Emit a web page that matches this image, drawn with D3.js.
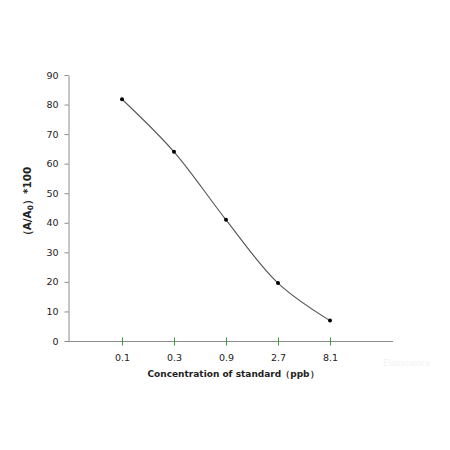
<!DOCTYPE html>
<html><head><meta charset="utf-8">
<script src="https://cdn.jsdelivr.net/npm/d3@7"></script>
<style>body{margin:0;background:#fff}</style>
</head><body>
<svg id="c" width="450" height="450"></svg>
<script>
const categories = ["0.1", "0.3", "0.9", "2.7", "8.1"];
const values = [81.8, 64.0, 41.0, 19.6, 6.9];
const yTicks = [0, 10, 20, 30, 40, 50, 60, 70, 80, 90];

const svg = d3.select("#c");
const font = "DejaVu Sans, Verdana, sans-serif";
const x = d3.scalePoint().domain(categories).range([122, 330]);
const y = d3.scaleLinear().domain([0, 90]).range([341, 75]);

// y axis
const ya = svg.append("g").attr("transform", "translate(68.5,0)")
  .call(d3.axisLeft(y).tickValues(yTicks).tickSize(4).tickPadding(6).tickSizeOuter(0));
ya.select(".domain").attr("stroke", "#8c8c8c");
ya.selectAll(".tick line").attr("stroke", "#8c8c8c");
ya.selectAll("text").attr("font-family", font).attr("font-size", 9.5).attr("fill", "#222");

// x axis line
svg.append("line").attr("x1", 68).attr("x2", 393).attr("y1", 341.5).attr("y2", 341.5)
  .attr("stroke", "#8c8c8c");
const xa = svg.append("g").attr("transform", "translate(0,341.5)")
  .call(d3.axisBottom(x).tickSize(0).tickPadding(13));
xa.select(".domain").remove();
xa.selectAll(".tick").append("line").attr("y1", -4).attr("y2", 4).attr("stroke", "#3aa03a");
xa.selectAll("text").attr("font-family", font).attr("font-size", 9.5).attr("fill", "#222");

// line
const pts = categories.map((c, i) => [x(c), y(values[i])]);
svg.append("path").attr("d", d3.line().curve(d3.curveCatmullRom.alpha(0.5))(pts))
  .attr("fill", "none").attr("stroke", "#555").attr("stroke-width", 1.1);
svg.selectAll("circle.p").data(pts).join("circle").attr("class", "p")
  .attr("cx", d => d[0]).attr("cy", d => d[1]).attr("r", 2).attr("fill", "#000");

// titles
svg.append("text").attr("x", 233).attr("y", 377).attr("text-anchor", "middle")
  .attr("font-family", font).attr("font-size", 9).attr("font-weight", "bold").attr("fill", "#222")
  .text("Concentration of standard（ppb）");
const yl = svg.append("text").attr("transform", "translate(31,204) rotate(-90)")
  .attr("text-anchor", "middle").attr("font-family", font).attr("font-size", 10.5)
  .attr("font-weight", "bold").attr("fill", "#222");
yl.append("tspan").text("（A/A");
yl.append("tspan").attr("font-size", 7.5).attr("dy", 2).text("0");
yl.append("tspan").attr("dy", -2).text("）*100");

svg.append("text").attr("x", 407).attr("y", 366).attr("text-anchor", "middle")
  .attr("font-family", font).attr("font-size", 8).attr("fill", "#f2f2f2").text("Elabscience");
</script>
</body></html>
